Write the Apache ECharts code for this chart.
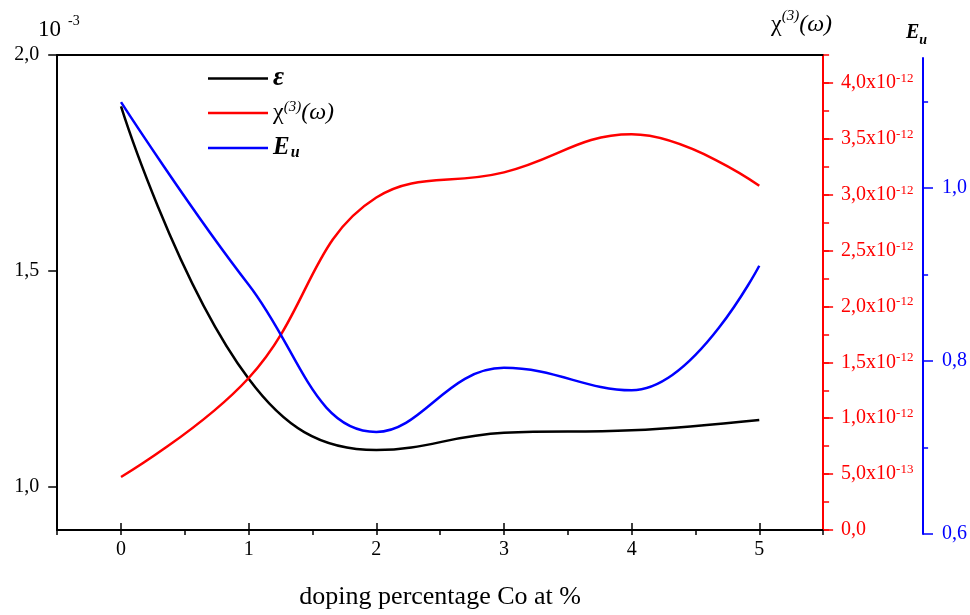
<!DOCTYPE html>
<html>
<head>
<meta charset="utf-8">
<script src="https://cdn.jsdelivr.net/npm/echarts@6/dist/echarts.min.js"></script>
<style>
  html, body { margin: 0; padding: 0; background: #fff; }
  #chart { width: 970px; height: 615px; }
</style>
</head>
<body>
<div id="chart"></div>
<script>
// Co doping level (at %)
const dopingLevels = [0, 1, 2, 3, 4, 5];
// dielectric quantity ε, in units of 10^-3
const epsilon = [1.881, 1.250, 1.085, 1.125, 1.131, 1.155];
// third-order susceptibility χ(3)(ω), in units of 10^-12
const chi3 = [0.474, 1.360, 2.975, 3.200, 3.540, 3.080];
// Urbach energy E_u
const urbach = [1.099, 0.888, 0.718, 0.792, 0.766, 0.910];

const xTickLabels = ['0', '1', '2', '3', '4', '5'];
const seriesNames = ['eps', 'chi', 'eu'];

const FONT = "'Liberation Serif', 'Times New Roman', serif";
const BLACK = '#000000', RED = '#ff0000', BLUE = '#0000ff';
const W = 970, H = 615;
const SMOOTH = 0.42;

// plot frame in pixels
const PL = 57.2, PR = 823.1, PT = 55, PB = 530;
// blue axis frame
const BT = 58, BB = 534;
const BLUE_MIN = 0.6, BLUE_MAX = 1.15;
const RED_MAX = 4.25;

const xPix = v => PL + (v + 0.5) / 6 * (PR - PL);
const leftY = v => PB - (v - 0.9) / 1.1 * (PB - PT);
const redY = v => PB - v / RED_MAX * (PB - PT);
const blueY = v => BB - (v - BLUE_MIN) / (BLUE_MAX - BLUE_MIN) * (BB - BT);

const comma = (v, d) => v.toFixed(d).replace('.', ',');

// an axis line that is laid out but not painted
const ghostLine = { show: true, onZero: false, lineStyle: { color: 'rgba(0,0,0,0)', width: 0 } };

function hiddenX(gridIndex) {
  return {
    type: 'value', gridIndex, min: -0.5, max: 5.5,
    axisLine: ghostLine, axisTick: { show: false },
    axisLabel: { show: false }, splitLine: { show: false }
  };
}
function hiddenY(gridIndex) {
  return {
    type: 'value', gridIndex, min: 0, max: 1,
    axisLine: ghostLine, axisTick: { show: false },
    axisLabel: { show: false }, splitLine: { show: false }
  };
}

const chart = echarts.init(document.getElementById('chart'), null, { renderer: 'canvas' });

const option = {
  backgroundColor: '#ffffff',
  animation: false,
  grid: [
    { left: PL, right: W - PR, top: PT, bottom: H - PB },                       // 0 main
    { left: PL, right: W - PR, top: BT, bottom: H - BB },                       // 1 blue
    { left: xPix(0), right: W - xPix(5), top: PT, bottom: H - PB },             // 2 x labels
    { left: PL, right: W - PR, top: leftY(2.0), bottom: H - leftY(1.0) },       // 3 left ticks
    { left: PL, right: W - PR, top: redY(4.0), bottom: H - PB },                // 4 red ticks
    { left: PL, right: W - PR, top: blueY(1.1), bottom: H - BB },               // 5 blue minor
    { left: PL, right: W - PR, top: blueY(1.0), bottom: H - BB }                // 6 blue major
  ],
  xAxis: [
    {
      type: 'value', gridIndex: 0, position: 'bottom', min: -0.5, max: 5.5, interval: 0.5,
      axisLine: { onZero: false, lineStyle: { color: BLACK, width: 2 } },
      axisTick: { show: true, length: 5, lineStyle: { color: BLACK, width: 1.5 } },
      axisLabel: { show: false }, splitLine: { show: false }
    },
    {
      type: 'value', gridIndex: 0, position: 'top', min: -0.5, max: 5.5,
      axisLine: { onZero: false, lineStyle: { color: BLACK, width: 2 } },
      axisTick: { show: false }, axisLabel: { show: false }, splitLine: { show: false }
    },
    hiddenX(1),
    {
      type: 'value', gridIndex: 2, position: 'bottom', min: 0, max: 5, interval: 1,
      axisLine: ghostLine,
      axisTick: { show: true, length: 9, lineStyle: { color: BLACK, width: 1.5 } },
      axisLabel: {
        margin: 17, color: BLACK, fontFamily: FONT, fontSize: 20,
        formatter: v => {
          const k = dopingLevels.indexOf(v);
          return k >= 0 ? xTickLabels[k] : '';
        }
      },
      splitLine: { show: false },
      name: 'doping percentage Co at %', nameLocation: 'middle', nameGap: 61,
      nameTextStyle: { color: BLACK, fontFamily: FONT, fontSize: 26 }
    },
    hiddenX(3), hiddenX(4), hiddenX(5), hiddenX(6)
  ],
  yAxis: [
    {
      type: 'value', gridIndex: 0, position: 'left', min: 0.9, max: 2.0,
      axisLine: { show: true, onZero: false, lineStyle: { color: BLACK, width: 2 } },
      axisTick: { show: false }, axisLabel: { show: false }, splitLine: { show: false }
    },
    {
      type: 'value', gridIndex: 0, position: 'right', min: 0, max: RED_MAX, interval: 0.25,
      axisLine: { show: true, onZero: false, lineStyle: { color: RED, width: 2 } },
      axisTick: { show: true, length: 6, lineStyle: { color: RED, width: 1.5 } },
      axisLabel: { show: false }, splitLine: { show: false }
    },
    {
      type: 'value', gridIndex: 1, position: 'right', offset: 100, min: BLUE_MIN, max: BLUE_MAX,
      axisLine: { show: true, onZero: false, lineStyle: { color: BLUE, width: 2 } },
      axisTick: { show: false }, axisLabel: { show: false }, splitLine: { show: false }
    },
    hiddenY(2),
    {
      type: 'value', gridIndex: 3, position: 'left', min: 1.0, max: 2.0, interval: 0.5,
      axisLine: ghostLine,
      axisTick: { show: true, length: 9, lineStyle: { color: BLACK, width: 1.5 } },
      axisLabel: { margin: 18, color: BLACK, fontFamily: FONT, fontSize: 20, formatter: v => comma(v, 1) },
      splitLine: { show: false }
    },
    {
      type: 'value', gridIndex: 4, position: 'right', min: 0, max: 4.0, interval: 0.5,
      axisLine: ghostLine,
      axisTick: { show: true, length: 10, lineStyle: { color: RED, width: 1.5 } },
      axisLabel: {
        margin: 18,
        formatter: v => {
          if (v === 0) return '{a|0,0}';
          const exp = v < 1 ? -13 : -12;
          const mant = v < 1 ? v * 10 : v;
          return '{a|' + comma(mant, 1) + 'x10}{s|' + exp + '}';
        },
        rich: {
          a: { color: RED, fontFamily: FONT, fontSize: 20, lineHeight: 22 },
          s: { color: RED, fontFamily: FONT, fontSize: 13, lineHeight: 14, verticalAlign: 'top' }
        }
      },
      splitLine: { show: false }
    },
    {
      type: 'value', gridIndex: 5, position: 'right', offset: 100, min: 0.6, max: 1.1, interval: 0.1,
      axisLine: ghostLine,
      axisTick: { show: true, length: 5, lineStyle: { color: BLUE, width: 1.5 } },
      axisLabel: { show: false }, splitLine: { show: false }
    },
    {
      type: 'value', gridIndex: 6, position: 'right', offset: 100, min: 0.6, max: 1.0, interval: 0.2,
      axisLine: ghostLine,
      axisTick: { show: true, length: 10, lineStyle: { color: BLUE, width: 1.5 } },
      axisLabel: { margin: 19, color: BLUE, fontFamily: FONT, fontSize: 20, formatter: v => comma(v, 1) },
      splitLine: { show: false }
    }
  ],
  legend: {
    orient: 'vertical', left: 203, top: 60, icon: 'rect',
    itemWidth: 60, itemHeight: 2.5, itemGap: 8,
    data: seriesNames,
    formatter: name => ({
      eps: '{bi|ε}',
      chi: '{n|χ}{sup|(3)}{i|(ω)}',
      eu: '{be|E}{sub|u}'
    })[name],
    textStyle: {
      rich: {
        bi: { fontFamily: FONT, fontSize: 27, fontWeight: 'bold', fontStyle: 'italic', color: BLACK, lineHeight: 26 },
        be: { fontFamily: FONT, fontSize: 25, fontWeight: 'bold', fontStyle: 'italic', color: BLACK, lineHeight: 26 },
        n: { fontFamily: FONT, fontSize: 24, color: BLACK, lineHeight: 26 },
        i: { fontFamily: FONT, fontSize: 24, fontStyle: 'italic', color: BLACK, lineHeight: 26 },
        sup: { fontFamily: FONT, fontSize: 15, fontStyle: 'italic', color: BLACK, lineHeight: 14, verticalAlign: 'top' },
        sub: { fontFamily: FONT, fontSize: 16, fontWeight: 'bold', fontStyle: 'italic', color: BLACK, lineHeight: 14, verticalAlign: 'bottom', padding: [12, 0, 0, 1] }
      }
    }
  },
  graphic: [
    {
      type: 'text', left: 38, top: 14,
      style: {
        text: '{m|10}{e|  -3}',
        rich: {
          m: { fontFamily: FONT, fontSize: 23, fill: BLACK, lineHeight: 27, verticalAlign: 'bottom' },
          e: { fontFamily: FONT, fontSize: 14, fill: BLACK, lineHeight: 16, verticalAlign: 'top' }
        }
      }
    },
    {
      type: 'text', left: 771, top: 9,
      style: {
        text: '{n|χ}{sup|(3)}{i|(ω)}',
        rich: {
          n: { fontFamily: FONT, fontSize: 24, fill: BLACK, lineHeight: 28, verticalAlign: 'bottom' },
          i: { fontFamily: FONT, fontSize: 24, fontStyle: 'italic', fill: BLACK, lineHeight: 28, verticalAlign: 'bottom' },
          sup: { fontFamily: FONT, fontSize: 15, fontStyle: 'italic', fill: BLACK, lineHeight: 14, verticalAlign: 'top' }
        }
      }
    },
    {
      type: 'text', left: 906, top: 23,
      style: {
        text: '{e|E}{u|u}',
        rich: {
          e: { fontFamily: FONT, fontSize: 20, fontWeight: 'bold', fontStyle: 'italic', fill: BLACK, lineHeight: 22, verticalAlign: 'top' },
          u: { fontFamily: FONT, fontSize: 14, fontWeight: 'bold', fontStyle: 'italic', fill: BLACK, lineHeight: 24, verticalAlign: 'bottom' }
        }
      }
    }
  ],
  series: [
    {
      name: 'eps', type: 'line', xAxisIndex: 0, yAxisIndex: 0, smooth: SMOOTH, symbol: 'none',
      color: BLACK, lineStyle: { color: BLACK, width: 2.5 },
      data: dopingLevels.map((x, i) => [x, epsilon[i]])
    },
    {
      name: 'chi', type: 'line', xAxisIndex: 0, yAxisIndex: 1, smooth: SMOOTH, symbol: 'none',
      color: RED, lineStyle: { color: RED, width: 2.5 },
      data: dopingLevels.map((x, i) => [x, chi3[i]])
    },
    {
      name: 'eu', type: 'line', xAxisIndex: 2, yAxisIndex: 2, smooth: SMOOTH, symbol: 'none',
      color: BLUE, lineStyle: { color: BLUE, width: 2.5 },
      data: dopingLevels.map((x, i) => [x, urbach[i]])
    }
  ]
};

chart.setOption(option);
</script>
</body>
</html>
